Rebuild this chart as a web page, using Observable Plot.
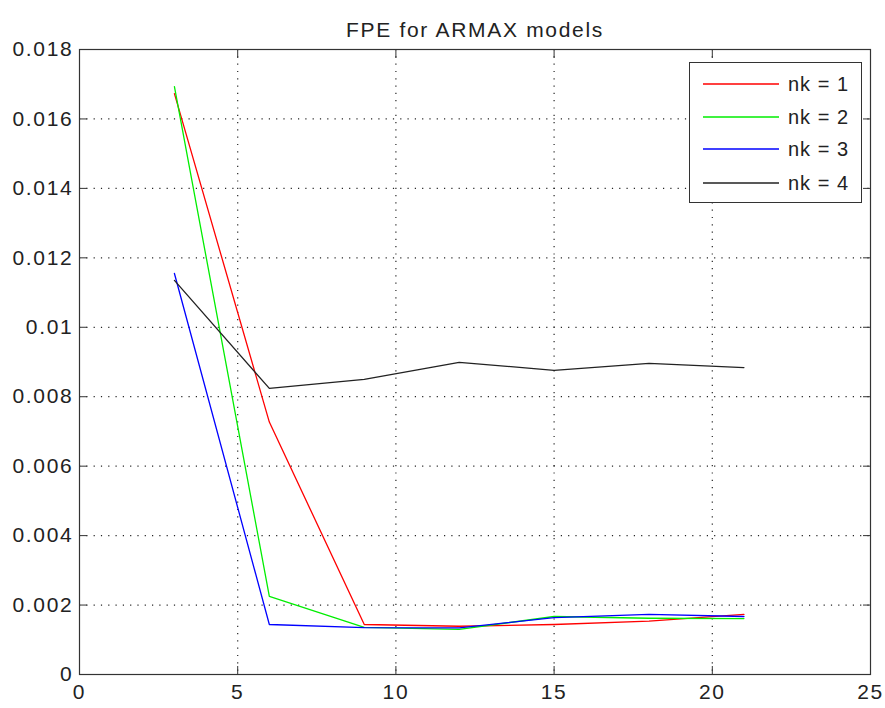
<!DOCTYPE html>
<html>
<head>
<meta charset="utf-8">
<script src="https://cdn.jsdelivr.net/npm/d3@7"></script>
<script src="https://cdn.jsdelivr.net/npm/@observablehq/plot@0.6"></script>
<style>
  html, body { margin: 0; padding: 0; background: #fff; }
  #wrap { position: relative; width: 885px; height: 708px; font-family: "Liberation Sans", Arial, sans-serif; }
  #wrap svg text { letter-spacing: 1.7px; }
  #legend { position: absolute; left: 689px; top: 62px; width: 171px; height: 139px; border: 1px solid #333; background: #fff; box-sizing: content-box; }
  #legend .row { position: absolute; left: 0; height: 20px; display: flex; align-items: center; }
  #legend svg { display: block; }
  #legend span { font-size: 20px; letter-spacing: 1px; margin-left: 9px; color: #222; }
</style>
</head>
<body>
<div id="wrap"></div>
<script>
const title = "FPE for ARMAX models";
const orders = [3, 6, 9, 12, 15, 18, 21];
const nk1 = [0.01673, 0.00727, 0.00144, 0.00139, 0.00144, 0.00154, 0.00173];
const nk2 = [0.01693, 0.00225, 0.00136, 0.00130, 0.00167, 0.00162, 0.00161];
const nk3 = [0.01155, 0.00144, 0.00135, 0.00134, 0.00164, 0.00173, 0.00167];
const nk4 = [0.01135, 0.00824, 0.00850, 0.00899, 0.00876, 0.00896, 0.00884];
const seriesNames = ["nk = 1", "nk = 2", "nk = 3", "nk = 4"];
const seriesColors = ["#ff0000", "#00ee00", "#0000ff", "#222222"];
const xTicks = [0, 5, 10, 15, 20, 25];
const xTickLabels = ["0", "5", "10", "15", "20", "25"];
const yTicks = [0, 0.002, 0.004, 0.006, 0.008, 0.01, 0.012, 0.014, 0.016, 0.018];
const yTickLabels = ["0", "0.002", "0.004", "0.006", "0.008", "0.01", "0.012", "0.014", "0.016", "0.018"];

const allSeries = [nk1, nk2, nk3, nk4];
const rows = [];
allSeries.forEach((vals, s) => vals.forEach((v, i) => rows.push({x: orders[i], y: v, s: seriesNames[s]})));

const xInner = xTicks.slice(1, -1);
const yInner = yTicks.slice(1, -1);
const xFmt = d => xTickLabels[xTicks.indexOf(d)];
const yFmt = d => yTickLabels[yTicks.findIndex(t => Math.abs(t - d) < 1e-9)];

const tickStyle = {stroke: "#333", strokeWidth: 1, label: null};
const chart = Plot.plot({
  width: 885,
  height: 708,
  marginLeft: 79,
  marginRight: 15,
  marginTop: 49,
  marginBottom: 34,
  style: {fontFamily: "'Liberation Sans', Arial, sans-serif", background: "#fff"},
  x: {domain: [0, 25], axis: null, label: null},
  y: {domain: [0, 0.018], axis: null, label: null},
  color: {domain: seriesNames, range: seriesColors},
  marks: [
    Plot.gridX(xInner, {stroke: "#000", strokeOpacity: 0.85, strokeDasharray: "1.2,6.1", strokeWidth: 1.2}),
    Plot.gridY(yInner, {stroke: "#000", strokeOpacity: 0.85, strokeDasharray: "1.2,6.1", strokeWidth: 1.2}),
    Plot.line(rows, {x: "x", y: "y", z: "s", stroke: "s", strokeWidth: 1.3}),
    Plot.frame({stroke: "#333", strokeWidth: 1.2}),
    // inward ticks on all four sides
    Plot.axisX(xTicks, {anchor: "bottom", tickSize: 8, dy: -8, text: null, ...tickStyle}),
    Plot.axisX(xTicks, {anchor: "top", tickSize: 8, dy: 8, text: null, ...tickStyle}),
    Plot.axisY(yTicks, {anchor: "left", tickSize: 8, dx: 8, text: null, ...tickStyle}),
    Plot.axisY(yTicks, {anchor: "right", tickSize: 8, dx: -8, text: null, ...tickStyle}),
    // tick labels
    Plot.axisX(xTicks, {anchor: "bottom", tickSize: 0, tickPadding: 10, tickFormat: xFmt, fontSize: 21, fill: "#222", label: null}),
    Plot.axisY(yTicks, {anchor: "left", tickSize: 0, tickPadding: 6, tickFormat: yFmt, fontSize: 21, fill: "#222", label: null}),
    Plot.text([title], {frameAnchor: "top", dy: -27, fontSize: 21, fill: "#222"})
  ]
});

const wrap = document.getElementById("wrap");
wrap.appendChild(chart);

const legend = document.createElement("div");
legend.id = "legend";
const legendY = [21, 54, 86, 120];
seriesNames.forEach((name, i) => {
  const row = document.createElement("div");
  row.className = "row";
  row.style.top = (legendY[i] - 10) + "px";
  row.innerHTML = `<svg width="90" height="20"><line x1="13" x2="89" y1="10" y2="10" stroke="${seriesColors[i]}" stroke-width="1.3"/></svg><span>${name}</span>`;
  row.querySelector("span").style.marginLeft = "8px";
  legend.appendChild(row);
});
wrap.appendChild(legend);
</script>
</body>
</html>
